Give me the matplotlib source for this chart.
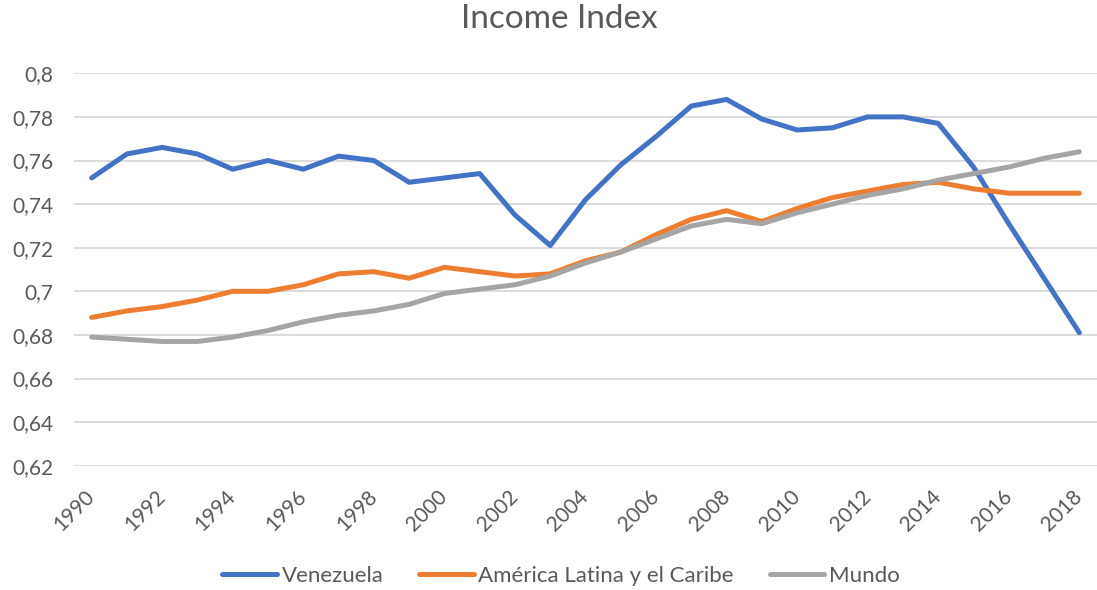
import matplotlib
matplotlib.use("Agg")
import matplotlib.pyplot as plt
from matplotlib.ticker import FuncFormatter, MultipleLocator

years = list(range(1990, 2019))

venezuela = [0.752, 0.763, 0.766, 0.763, 0.756, 0.760, 0.756, 0.762, 0.760, 0.750,
             0.752, 0.754, 0.735, 0.721, 0.742, 0.758, 0.771, 0.785, 0.788, 0.779,
             0.774, 0.775, 0.780, 0.780, 0.777, 0.757, 0.731, 0.706, 0.681]

america_latina = [0.688, 0.691, 0.693, 0.696, 0.700, 0.700, 0.703, 0.708, 0.709, 0.706,
                  0.711, 0.709, 0.707, 0.708, 0.714, 0.718, 0.726, 0.733, 0.737, 0.732,
                  0.738, 0.743, 0.746, 0.749, 0.750, 0.747, 0.745, 0.745, 0.745]

mundo = [0.679, 0.678, 0.677, 0.677, 0.679, 0.682, 0.686, 0.689, 0.691, 0.694,
         0.699, 0.701, 0.703, 0.707, 0.713, 0.718, 0.724, 0.730, 0.733, 0.731,
         0.736, 0.740, 0.744, 0.747, 0.751, 0.754, 0.757, 0.761, 0.764]

series_names = ["Venezuela", "América Latina y el Caribe", "Mundo"]
series_colors = ["#4472C4", "#ED7D31", "#A5A5A5"]

plt.rcParams["font.family"] = ["Lato", "DejaVu Sans"]
text_color = "#595959"

fig = plt.figure(figsize=(10.97, 5.90), dpi=100)
ax = fig.add_axes([74 / 1097, 1 - 465.7 / 590, (1097 - 74) / 1097, (465.7 - 73.3) / 590])

for values, name, color in zip([venezuela, america_latina, mundo], series_names, series_colors):
    ax.plot(years, values, color=color, linewidth=3.6, label=name,
            solid_capstyle="round", solid_joinstyle="round")

ax.set_xlim(1989.5, 2018.5)
ax.set_ylim(0.62, 0.80)
ax.yaxis.set_major_locator(MultipleLocator(0.02))
ax.yaxis.set_major_formatter(FuncFormatter(lambda v, p: f"{round(v, 2):g}".replace(".", ",")))
ax.set_xticks(years[::2])
ax.set_xticklabels([str(y) for y in years[::2]], rotation=45, ha="right", va="center",
                   rotation_mode="anchor")

ax.grid(axis="y", color="#D9D9D9", linewidth=1.3)
ax.set_axisbelow(True)
for s in ax.spines.values():
    s.set_visible(False)
ax.tick_params(axis="both", length=0, colors=text_color, labelsize=15)
ax.tick_params(axis="y", pad=15)
ax.tick_params(axis="x", pad=20)

fig.text(559 / 1097, 1 - 19 / 590, "Income Index", ha="center", va="center",
         fontsize=24, color=text_color)

fig.legend(loc="center", bbox_to_anchor=(561 / 1097, 1 - 576 / 590), ncol=3, frameon=False,
           fontsize=16, handlelength=2.45, handletextpad=0.22, columnspacing=1.6,
           labelcolor=text_color)

fig.savefig("out.png", dpi=100, facecolor="white")
